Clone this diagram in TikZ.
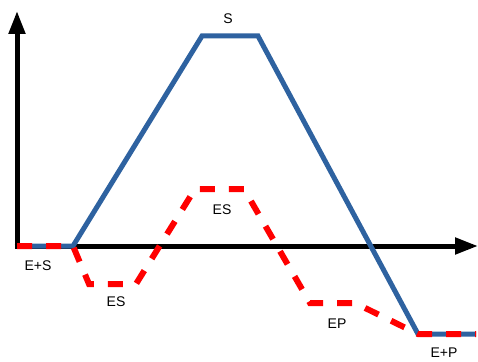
\documentclass[tikz,border=0pt]{standalone}
\usepackage{fontspec}
\setmainfont{Liberation Sans}
\usetikzlibrary{arrows.meta}
\definecolor{pathblue}{RGB}{46,98,160}
\definecolor{pathred}{RGB}{255,0,0}
\tikzset{
  axis/.style={line width=5pt,-{Triangle[length=23pt,width=16pt]}},
  uncat/.style={line width=5pt,pathblue,line join=miter},
  cat/.style={line width=6pt,pathred,dash pattern=on 15pt off 14pt},
  lbl/.style={font=\fontsize{14}{16}\selectfont,inner sep=0pt}
}
\begin{document}
\begin{tikzpicture}[x=1pt,y=-1pt]
\useasboundingbox (0,0) rectangle (478,361);
% coordinates
\coordinate (o) at (17,246);
\coordinate (ytop) at (17,11);
\coordinate (xend) at (478,246);
\coordinate (es0) at (73,246);
\coordinate (s1) at (202,36);
\coordinate (s2) at (258,36);
\coordinate (ep0) at (418,334);
\coordinate (ep1) at (476,334);
\coordinate (c1) at (89,284);
\coordinate (c2) at (136,284);
\coordinate (c3) at (195,189);
\coordinate (c4) at (244,189);
\coordinate (c5) at (310,303);
\coordinate (c6) at (355,303);
% axes
\draw[axis] ([yshift=2.5pt]o) -- (ytop);
\draw[axis] ([xshift=-2.5pt]o) -- (xend);
% uncatalysed
\draw[uncat] (o) -- (es0) -- (s1) -- (s2) -- (ep0) -- (ep1);
% catalysed
\draw[cat] (o) -- (es0) -- (c1) -- (c2) -- (c3) -- (c4) -- (c5) -- (c6) -- (ep0) -- (ep1);
% labels
\node[lbl] (les) at (38,266) {E+S};
\node[lbl] (les1) at (116,302) {ES};
\node[lbl] (les2) at (222,210) {ES};
\node[lbl] (ls) at (228,19) {S};
\node[lbl] (lep) at (337,324) {EP};
\node[lbl] (lep2) at (444,353) {E+P};
\end{tikzpicture}
\end{document}
